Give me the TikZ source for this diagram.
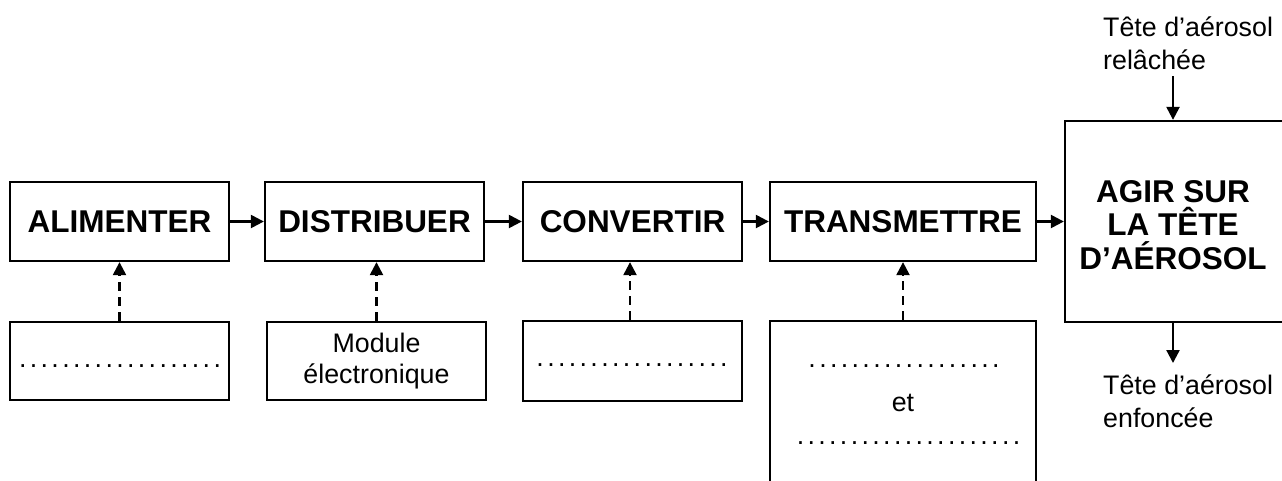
\documentclass[tikz,border=0pt]{standalone}
\usepackage{fontspec}
\setmainfont{Liberation Sans}
\usetikzlibrary{arrows.meta}
\newcommand\dotrow[1]{\count255=0 \loop\hbox to 10.8pt{\hss.\hss}\advance\count255 by 1 \ifnum\count255<#1 \repeat}
\tikzset{
  fbox/.style={draw, line width=2.3pt, inner sep=0pt, font=\fontsize{31.5}{33.5}\selectfont\bfseries, align=center},
  sbox/.style={draw, line width=2.3pt, inner sep=0pt, font=\fontsize{26.8}{31}\selectfont, align=center},
  lbl/.style={inner sep=0pt, font=\fontsize{26.8}{33}\selectfont, align=left},
  txt/.style={inner sep=0pt, font=\fontsize{26.8}{31}\selectfont},
  flow/.style={line width=2.3pt, -{Triangle[length=13pt,width=13pt]}},
  ctrl/.style={flow, dash pattern=on 9pt off 6pt},
}
\begin{document}
\begin{tikzpicture}[x=1pt,y=-1pt]
\useasboundingbox (0,0) rectangle (1282,480);
\clip (0,0) rectangle (1282,480);
\fill[white] (0,0) rectangle (1282,480);
% main boxes
\node[fbox, minimum width=219pt, minimum height=79pt] (alim) at (119.5,221.5) {ALIMENTER};
\node[fbox, minimum width=219pt, minimum height=79pt] (distr) at (374.5,221.5) {DISTRIBUER};
\node[fbox, minimum width=219pt, minimum height=79pt] (conv) at (632.5,221.5) {CONVERTIR};
\node[fbox, minimum width=266pt, minimum height=79pt] (trans) at (903,221.5) {TRANSMETTRE};
\node[draw, line width=2.3pt, minimum width=220pt, minimum height=201pt, inner sep=0pt] (agir) at (1175,221.5) {};
\node[fbox, draw=none] (agirtxt) at (1173,225) {AGIR SUR\\LA TÊTE\\D’AÉROSOL};
% lower boxes
\node[sbox, minimum width=219pt, minimum height=78pt] (b1) at (119.5,361) {};
\node[sbox, minimum width=219pt, minimum height=78pt] (b2) at (376.5,361) {Module\\électronique};
\node[sbox, minimum width=219pt, minimum height=80pt] (b3) at (632.5,361) {};
\node[sbox, minimum width=266pt, minimum height=200pt] (b4) at (903,421) {};
% dotted texts
\node[txt] (d1) at (120,366) {\dotrow{19}};
\node[txt] (d3) at (632,365) {\dotrow{18}};
\node[txt] (d4a) at (904,366) {\dotrow{18}};
\node[txt] (et) at (903,403) {et};
\node[txt] (d4b) at (908.5,443) {\dotrow{21}};
% flow arrows
\draw[flow] (alim) -- (distr);
\draw[flow] (distr) -- (conv);
\draw[flow] (conv) -- (trans);
\draw[flow] (trans.east) -- (trans.east -| agir.west);
% control (dashed) arrows
\draw[ctrl] (b1.north) -- (alim.south);
\draw[ctrl] (b2.north) -- (b2.north |- distr.south);
\draw[ctrl] ([xshift=-2.5pt]b3.north) -- ([xshift=-2.5pt]conv.south);
\draw[ctrl] (b4.north) -- (trans.south);
% input / output
\coordinate (inA) at (1173,76);
\coordinate (outA) at (1173,363);
\draw[flow] (inA) -- (inA |- agir.north);
\draw[flow] (outA |- agir.south) -- (outA);
\node[lbl, anchor=west] (tin) at (1103,43) {Tête d’aérosol\\relâchée};
\node[lbl, anchor=west] (tout) at (1103,401) {Tête d’aérosol\\enfoncée};
\end{tikzpicture}
\end{document}
